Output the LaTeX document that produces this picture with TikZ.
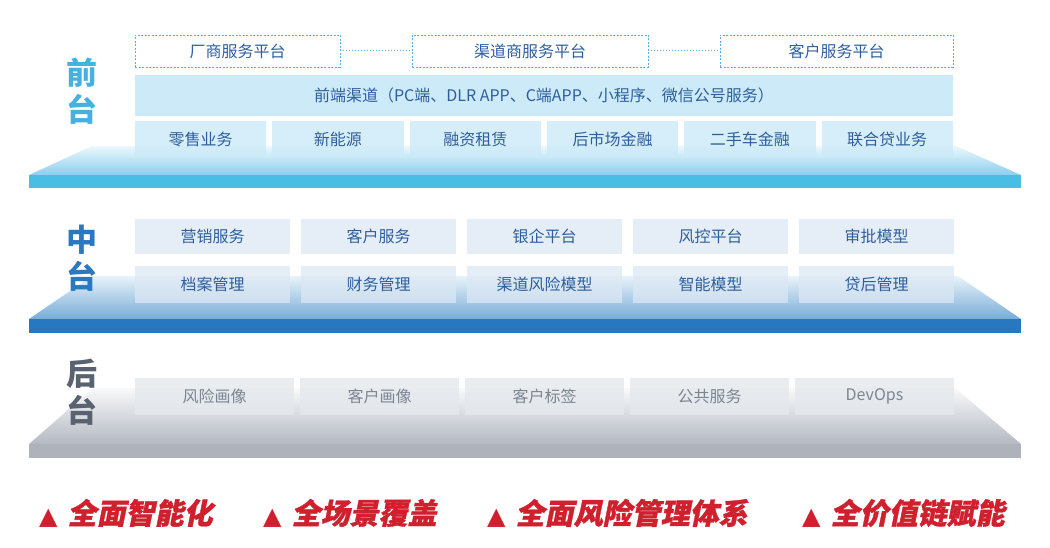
\documentclass[tikz,border=0pt]{standalone}
\usepackage{fontspec}
\newfontfamily\cjk{Noto Sans CJK SC}
\newfontfamily\cjkslant[FakeSlant=0.2, FakeBold=1.2]{Noto Sans CJK SC}
\newfontfamily\symfont{DejaVu Sans}
\usetikzlibrary{positioning}
\definecolor{lineblue}{HTML}{5AAEE2}
\definecolor{textblue}{HTML}{2E5E9E}
\definecolor{textgrey}{HTML}{7B8593}
\definecolor{frontfill}{HTML}{CCEAF7}
\definecolor{midfill}{HTML}{DCE8F4}
\definecolor{backfill}{HTML}{E5E8EC}
\definecolor{labelcyan}{HTML}{45B1E0}
\definecolor{labelblue}{HTML}{2A78C0}
\definecolor{labelgrey}{HTML}{596270}
\definecolor{sloganred}{HTML}{D0202E}
\tikzset{
    dashbox/.style={draw=lineblue, dash pattern=on 2pt off 1.5pt, line width=0.8pt, minimum height=32pt, inner sep=0pt, outer sep=0pt, text=textblue, font=\cjk\fontsize{16}{16}\selectfont},
    link/.style={draw=lineblue, dotted, line width=1pt},
    channel/.style={fill=frontfill, minimum width=818pt, minimum height=41pt, inner sep=0pt, outer sep=0pt, text=textblue, font=\cjk\fontsize{16}{16}\selectfont},
    frontbox/.style={fill=frontfill, fill opacity=0.8, text opacity=1, minimum width=131.3pt, minimum height=36pt, inner sep=0pt, outer sep=0pt, text=textblue, font=\cjk\fontsize{16}{16}\selectfont},
    midbox/.style={fill=midfill, fill opacity=0.75, text opacity=1, minimum width=155pt, minimum height=35pt, inner sep=0pt, outer sep=0pt, text=textblue, font=\cjk\fontsize{16}{16}\selectfont},
    backbox/.style={fill=backfill, fill opacity=0.8, text opacity=1, minimum width=159pt, minimum height=37pt, inner sep=0pt, outer sep=0pt, text=textgrey, font=\cjk\fontsize{16}{16}\selectfont},
    layerlabel/.style={align=center, inner sep=0pt, font=\cjk\bfseries\fontsize{31}{37}\selectfont},
    slogan/.style={anchor=west, inner sep=0pt, text=sloganred, font=\cjkslant\bfseries\fontsize{29}{29}\selectfont}
}
\newcommand{\tri}{{\symfont\fontsize{24}{24}\selectfont ▲}\hspace{10pt}}

\begin{document}
\begin{tikzpicture}[x=1pt, y=-1pt, node distance=6pt]
\useasboundingbox (0,0) rectangle (1050,548);

% platforms
\shade[top color={rgb,255:red,236;green,248;blue,253}, bottom color={rgb,255:red,140;green,206;blue,238}] (92,146) -- (956,146) -- (1021,175) -- (29,175) -- cycle;
\fill[color={rgb,255:red,74;green,189;blue,228}] (29,175) rectangle (1021,188);
\shade[top color={rgb,255:red,232;green,243;blue,250}, bottom color={rgb,255:red,120;green,172;blue,216}] (92,276) -- (958,276) -- (1021,319) -- (29,319) -- cycle;
\fill[color={rgb,255:red,40;green,120;blue,193}] (29,319) rectangle (1021,333);
\shade[top color={rgb,255:red,248;green,249;blue,250}, bottom color={rgb,255:red,180;green,185;blue,194}] (93,388) -- (955,388) -- (1021,444) -- (29,444) -- cycle;
\fill[color={rgb,255:red,174;green,179;blue,187}] (29,444) rectangle (1021,458);

% front office
\node[layerlabel, text=labelcyan] (front) at (82,91) {前\\台};
\node[dashbox, anchor=north west, minimum width=205pt] (maker) at (135,35) {厂商服务平台};
\node[dashbox, right=72pt of maker, minimum width=236pt] (dealer) {渠道商服务平台};
\node[dashbox, right=72pt of dealer, minimum width=233pt] (client) {客户服务平台};
\draw[link] (maker) -- (dealer);
\draw[link] (dealer) -- (client);
\node[channel, anchor=north west] (portal) at (135,75) {前端渠道（PC端、DLR APP、C端APP、小程序、微信公号服务）};
\node[frontbox, anchor=north west] (retail) at (135,121) {零售业务};
\node[frontbox, right=of retail] (energy) {新能源};
\node[frontbox, right=of energy] (lease) {融资租赁};
\node[frontbox, right=of lease] (after) {后市场金融};
\node[frontbox, right=of after] (used) {二手车金融};
\node[frontbox, right=of used] (joint) {联合贷业务};

% middle office
\node[layerlabel, text=labelblue] (middle) at (82,258) {中\\台};
\node[midbox, anchor=north west] (market) at (135,219) {营销服务};
\node[midbox, right=11pt of market] (service) {客户服务};
\node[midbox, right=11pt of service] (bank) {银企平台};
\node[midbox, right=11pt of bank] (risk) {风控平台};
\node[midbox, right=11pt of risk] (approve) {审批模型};
\node[midbox, below=12pt of market, minimum height=37pt] (archive) {档案管理};
\node[midbox, below=12pt of service, minimum height=37pt] (finance) {财务管理};
\node[midbox, below=12pt of bank, minimum height=37pt] (chrisk) {渠道风险模型};
\node[midbox, below=12pt of risk, minimum height=37pt] (smart) {智能模型};
\node[midbox, below=12pt of approve, minimum height=37pt] (postloan) {贷后管理};

% back office
\node[layerlabel, text=labelgrey] (back) at (82,392) {后\\台};
\node[backbox, anchor=north west] (riskpic) at (135,378) {风险画像};
\node[backbox, right=of riskpic] (custpic) {客户画像};
\node[backbox, right=of custpic] (tags) {客户标签};
\node[backbox, right=of tags] (public) {公共服务};
\node[backbox, right=of public] (devops) {DevOps};

% slogans
\node[slogan] (smartall) at (39,513) {\tri 全面智能化};
\node[slogan] (scene) at (263,513) {\tri 全场景覆盖};
\node[slogan] (riskall) at (487,513) {\tri 全面风险管理体系};
\node[slogan] (value) at (802,513) {\tri 全价值链赋能};
\end{tikzpicture}
\end{document}
